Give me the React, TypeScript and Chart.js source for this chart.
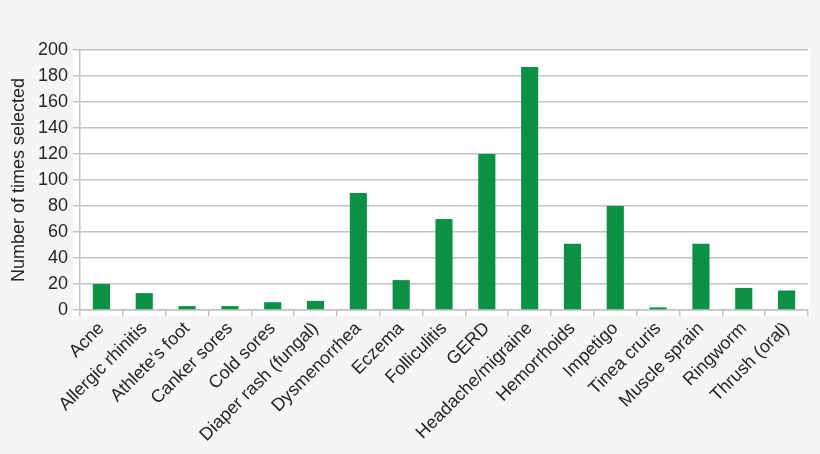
import React, { useEffect, useRef } from "react";
import Chart from "chart.js/auto";

const categories = [
  "Acne",
  "Allergic rhinitis",
  "Athlete’s foot",
  "Canker sores",
  "Cold sores",
  "Diaper rash (fungal)",
  "Dysmenorrhea",
  "Eczema",
  "Folliculitis",
  "GERD",
  "Headache/migraine",
  "Hemorrhoids",
  "Impetigo",
  "Tinea cruris",
  "Muscle sprain",
  "Ringworm",
  "Thrush (oral)",
];

const timesSelected = [20, 13, 3, 3, 6, 7, 90, 23, 70, 120, 187, 51, 80, 2, 51, 17, 15];

const yMin = 0;
const yMax = 200;
const yStep = 20;

const GREEN = "#0a9144";
const GRID = "#c2c2c2";
const TEXT = "#262626";
const FONT = "'Liberation Sans', Arial, sans-serif";

export default function App() {
  const canvasRef = useRef<HTMLCanvasElement | null>(null);

  useEffect(() => {
    document.body.style.margin = "0";
    const ctx = canvasRef.current?.getContext("2d");
    if (!ctx) return;

    const chart = new Chart(ctx, {
      type: "bar",
      data: {
        labels: categories,
        datasets: [
          {
            data: timesSelected,
            backgroundColor: GREEN,
            borderWidth: 0,
            barPercentage: 0.4,
            categoryPercentage: 1,
          },
        ],
      },
      options: {
        responsive: false,
        animation: false,
        devicePixelRatio: 1,
        layout: { padding: { top: 50, right: 12, left: 0, bottom: 0 } },
        plugins: {
          legend: { display: false },
          tooltip: { enabled: false },
        },
        scales: {
          x: {
            afterFit: (scale) => {
              scale.height = 144;
            },
            grid: {
              drawOnChartArea: false,
              drawTicks: true,
              tickLength: 6,
              color: GRID,
              lineWidth: 1.5,
            },
            border: { color: GRID, width: 1.5 },
            ticks: {
              autoSkip: false,
              minRotation: 45,
              maxRotation: 45,
              color: TEXT,
              padding: 2,
              font: { family: FONT, size: 18 },
            },
          },
          y: {
            min: yMin,
            max: yMax,
            afterFit: (scale) => {
              scale.width = 80;
            },
            grid: {
              color: GRID,
              lineWidth: 1.5,
              tickLength: 7,
            },
            border: { color: GRID, width: 1.5 },
            ticks: {
              stepSize: yStep,
              color: TEXT,
              padding: 5,
              font: { family: FONT, size: 18 },
            },
            title: {
              display: true,
              text: "Number of times selected",
              color: TEXT,
              padding: { top: 8, bottom: 4 },
              font: { family: FONT, size: 18 },
            },
          },
        },
      },
      plugins: [
        {
          id: "backdrop",
          beforeDraw: (c) => {
            const { ctx: g, chartArea } = c;
            g.save();
            g.fillStyle = "#f5f5f5";
            g.fillRect(0, 0, c.width, c.height);
            g.fillStyle = "#ffffff";
            g.fillRect(chartArea.left - 7, chartArea.top - 1, chartArea.right - chartArea.left + 9, chartArea.bottom - chartArea.top + 7);
            g.restore();
          },
        },
      ],
    });

    return () => {
      chart.destroy();
    };
  }, []);

  return <canvas ref={canvasRef} width={820} height={454} style={{ display: "block" }} />;
}
